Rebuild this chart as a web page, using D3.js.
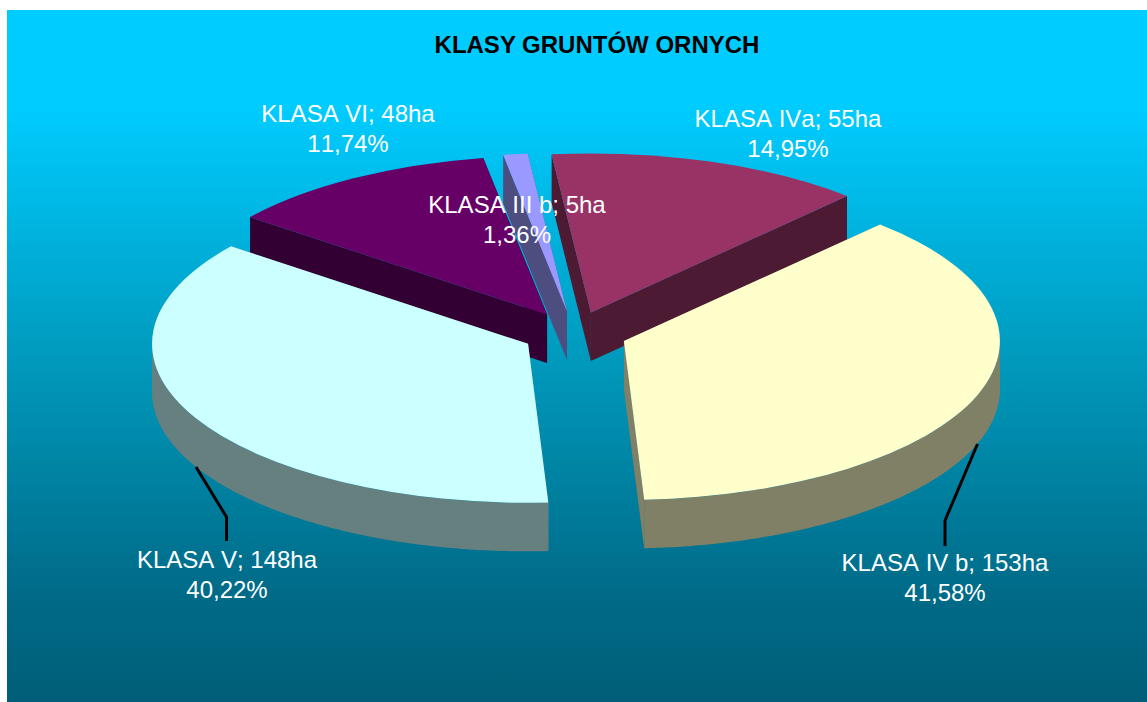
<!DOCTYPE html>
<html>
<head>
<meta charset="utf-8">
<script src="https://cdn.jsdelivr.net/npm/d3@7"></script>
<style>
  html, body { margin: 0; padding: 0; background: #fff; }
  svg { display: block; }
  text { font-family: "Liberation Sans", Arial, sans-serif; }
  .lbl { font-kerning: none; }
</style>
</head>
<body>
<div id="chart"></div>
<script>
// values, drawn clockwise from the top
const categories = ["KLASA IVa", "KLASA IV b", "KLASA V", "KLASA VI", "KLASA III b"];
const hectares = [55, 153, 148, 48, 5];
const percentLabels = ["14,95%", "41,58%", "40,22%", "11,74%", "1,36%"];
const topColors = ["#993366", "#FFFFCC", "#CCFFFF", "#660066", "#9999FF"];
const sideColors = ["#4D1A33", "#808066", "#668080", "#330033", "#4D4D80"];

// back to front
const drawOrder = [3, 4, 0, 2, 1];

// label centres (first line baseline)
const labelX = [788, 945, 227, 348, 517];
const labelY = [127, 571, 568, 122, 213];

function renderPie() {
    const width = 1147;
    const height = 702;
    const cx = 574.5, cy = 333.5;
    const rx = 376, ry = 159;
    const depth = 48.5;
    const explode = 52.5;
    const tilt = ry / rx;
    const start = -6 * Math.PI / 180;

    const svg = d3.select("#chart").append("svg")
        .attr("width", width)
        .attr("height", height);

    const grad = svg.append("defs").append("linearGradient")
        .attr("id", "bg")
        .attr("x1", 0).attr("y1", 0).attr("x2", 0).attr("y2", 1);
    grad.append("stop").attr("offset", "0%").attr("stop-color", "#00CCFF");
    grad.append("stop").attr("offset", "14%").attr("stop-color", "#00CCFF");
    grad.append("stop").attr("offset", "50%").attr("stop-color", "#009ABD");
    grad.append("stop").attr("offset", "85%").attr("stop-color", "#006A87");
    grad.append("stop").attr("offset", "100%").attr("stop-color", "#005E78");

    svg.append("rect")
        .attr("x", 7).attr("y", 10)
        .attr("width", width - 7).attr("height", height - 10)
        .attr("fill", "url(#bg)");

    svg.append("text")
        .attr("x", 597).attr("y", 53)
        .attr("text-anchor", "middle")
        .attr("font-size", 24)
        .attr("font-weight", "bold")
        .attr("fill", "#000")
        .text("KLASY GRUNTÓW ORNYCH");

    const slices = d3.pie().sort(null)
        .startAngle(start)
        .endAngle(start + 2 * Math.PI)(hectares);

    const arc = d3.arc().innerRadius(0).outerRadius(rx);

    // small angle correction, the tilted pie is not quite a flat ellipse
    function warp(a) { return a + 0.004 + 0.007 * Math.cos(a); }

    // centre of an exploded slice
    function centre(d) {
        const mid = (d.startAngle + d.endAngle) / 2;
        return [cx + explode * Math.sin(mid), cy - explode * tilt * Math.cos(mid)];
    }

    function rimX(c, a) { return c[0] + rx * Math.sin(a); }
    function rimY(c, a) { return c[1] - ry * Math.cos(a); }

    const rim = d3.area();

    drawOrder.forEach(i => {
        const d = slices[i];
        const c = centre(d);
        // the seam where the pie starts and ends stays put
        const a0 = i === 0 ? d.startAngle : warp(d.startAngle);
        const a1 = i === slices.length - 1 ? d.endAngle : warp(d.endAngle);
        const g = svg.append("g");

        // the two cut faces
        [a0, a1].forEach(a => {
            const x = rimX(c, a), y = rimY(c, a);
            g.append("path")
                .attr("d", `M${c[0]},${c[1]}L${x},${y}L${x},${y + depth}L${c[0]},${c[1] + depth}Z`)
                .attr("fill", sideColors[i]);
        });

        // outer wall, only the part turned towards us
        const w0 = Math.max(a0, Math.PI / 2);
        const w1 = Math.min(a1, 3 * Math.PI / 2);
        if (w1 > w0) {
            const steps = d3.range(w0, w1, 0.01).concat([w1]);
            g.append("path")
                .attr("d", rim
                    .x(a => rimX(c, a))
                    .y0(a => rimY(c, a))
                    .y1(a => rimY(c, a) + depth)(steps))
                .attr("fill", sideColors[i]);
        }

        g.append("path")
            .attr("transform", `translate(${c[0]},${c[1]}) scale(1,${tilt})`)
            .attr("d", arc({ startAngle: a0, endAngle: a1 }))
            .attr("fill", topColors[i]);
    });

    // leader lines of the two big slices
    const leader = d3.line();
    [[[196, 467], [226.5, 517], [226.5, 541]],
     [[977.5, 444], [945, 520.5], [945, 546]]].forEach(pts => {
        svg.append("path")
            .attr("d", leader(pts))
            .attr("fill", "none")
            .attr("stroke", "#000")
            .attr("stroke-width", 3);
    });

    categories.forEach((name, i) => {
        const t = svg.append("text")
            .attr("class", "lbl")
            .attr("text-anchor", "middle")
            .attr("font-size", 24)
            .attr("fill", "#fff");
        t.append("tspan").attr("x", labelX[i]).attr("y", labelY[i])
            .text(`${name}; ${hectares[i]}ha`);
        t.append("tspan").attr("x", labelX[i]).attr("y", labelY[i] + 30)
            .text(percentLabels[i]);
    });
}

renderPie();
</script>
</body>
</html>
